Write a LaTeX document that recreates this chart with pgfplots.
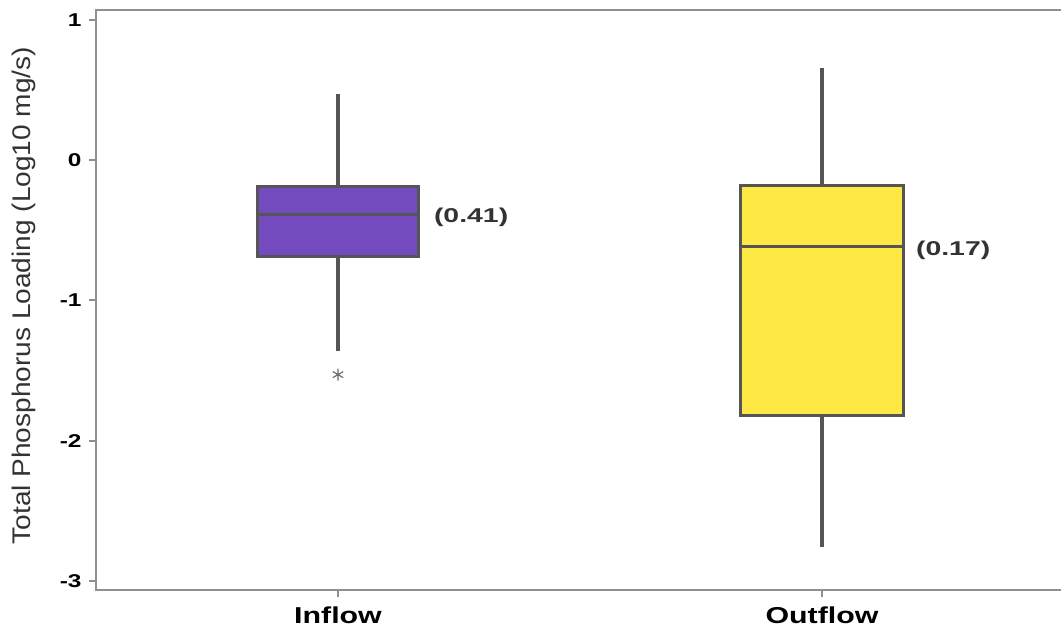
\documentclass[border=0pt]{standalone}
\usepackage{fontspec}
\setmainfont{Liberation Sans}
\newfontfamily\widefont[FakeStretch=1.32]{Liberation Sans}
\newfontfamily\annotfont[FakeStretch=1.42]{Liberation Sans}
\newfontfamily\titlefont[FakeStretch=1.1]{Liberation Sans}
\usepackage{pgfplots}
\usepgfplotslibrary{statistics}
\pgfplotsset{compat=1.18}

\definecolor{axisgray}{HTML}{8F8F8F}
\definecolor{boxline}{HTML}{555555}
\definecolor{inflowfill}{HTML}{734BBE}
\definecolor{outflowfill}{HTML}{FEE944}
\definecolor{labeltext}{HTML}{333333}

\pgfplotsset{
  boxstyle/.style={mark=none, draw=boxline, line width=2.8pt},
  stroke/.style={draw=boxline, line width=3.2pt, mark=none, forget plot},
}

\begin{document}
\begin{tikzpicture}
\begin{axis}[
  name=ax,
  scale only axis,
  width=968pt, height=580pt,
  xmin=0.5, xmax=2.5,
  ymin=-3.064, ymax=1.07,
  axis line style={draw=none},
  xtick={1,2}, xticklabels={Inflow,Outflow},
  ytick={-3,-2,-1,0,1},
  xtick pos=lower, ytick pos=left,
  tick align=outside,
  major tick length=7pt,
  tick style={draw=axisgray, line width=2pt},
  /pgf/number format/assume math mode=true,
  y tick label style={font=\fontsize{18.5}{20}\selectfont\widefont\bfseries, text=black, xshift=-4pt},
  x tick label style={font=\fontsize{23}{25}\selectfont\widefont\bfseries, text=black, yshift=-6pt},
  boxplot/draw direction=y,
  boxplot/whisker extend=0,
  clip=false,
]
% frame: left, bottom and top edges
\draw[axisgray, line width=2.8pt, line join=miter]
  (rel axis cs:1.02,1) -- (rel axis cs:0,1) -- (rel axis cs:0,0) -- (rel axis cs:1.02,0);

% Inflow
\addplot+[boxstyle, fill=inflowfill,
  boxplot prepared={
    draw position=1, box extend=0.333,
    lower whisker=-1.363, lower quartile=-0.686,
    median=-0.387,
    upper quartile=-0.187, upper whisker=0.474}]
  coordinates {};
\addplot[stroke] coordinates {(1,-1.363) (1,-0.686)};
\addplot[stroke] coordinates {(1,-0.187) (1,0.474)};
\addplot[stroke] coordinates {(0.8335,-0.387) (1.1665,-0.387)};

% Outflow
\addplot+[boxstyle, fill=outflowfill,
  boxplot prepared={
    draw position=2, box extend=0.337,
    lower whisker=-2.760, lower quartile=-1.822,
    median=-0.618,
    upper quartile=-0.179, upper whisker=0.657}]
  coordinates {};
\addplot[stroke] coordinates {(2,-2.760) (2,-1.822)};
\addplot[stroke] coordinates {(2,-0.179) (2,0.657)};
\addplot[stroke] coordinates {(1.8315,-0.618) (2.1685,-0.618)};

% Inflow outlier
\addplot[only marks, mark=asterisk, mark size=6pt, draw=boxline!85, mark options={line width=1.2pt}]
  coordinates {(1,-1.529)};

% Value labels beside the medians
\node[anchor=west, inner sep=0pt, yshift=-3pt, text=labeltext,
      font=\fontsize{20}{22}\selectfont\annotfont\bfseries] at (axis cs:1.198,-0.387) {(0.41)};
\node[anchor=west, inner sep=0pt, yshift=-4pt, text=labeltext,
      font=\fontsize{20}{22}\selectfont\annotfont\bfseries] at (axis cs:2.194,-0.618) {(0.17)};

% Axis title
\node[rotate=90, anchor=center, text=labeltext, font=\fontsize{25.5}{27}\selectfont\titlefont]
  at (axis cs:0.3512,-0.966) {Total Phosphorus Loading (Log10 mg/s)};
\end{axis}
\pgfresetboundingbox
\path[use as bounding box] ([shift={(-96pt,-40pt)}]ax.south west) rectangle ([shift={(-3pt,10pt)}]ax.north east);
\end{tikzpicture}
\end{document}
